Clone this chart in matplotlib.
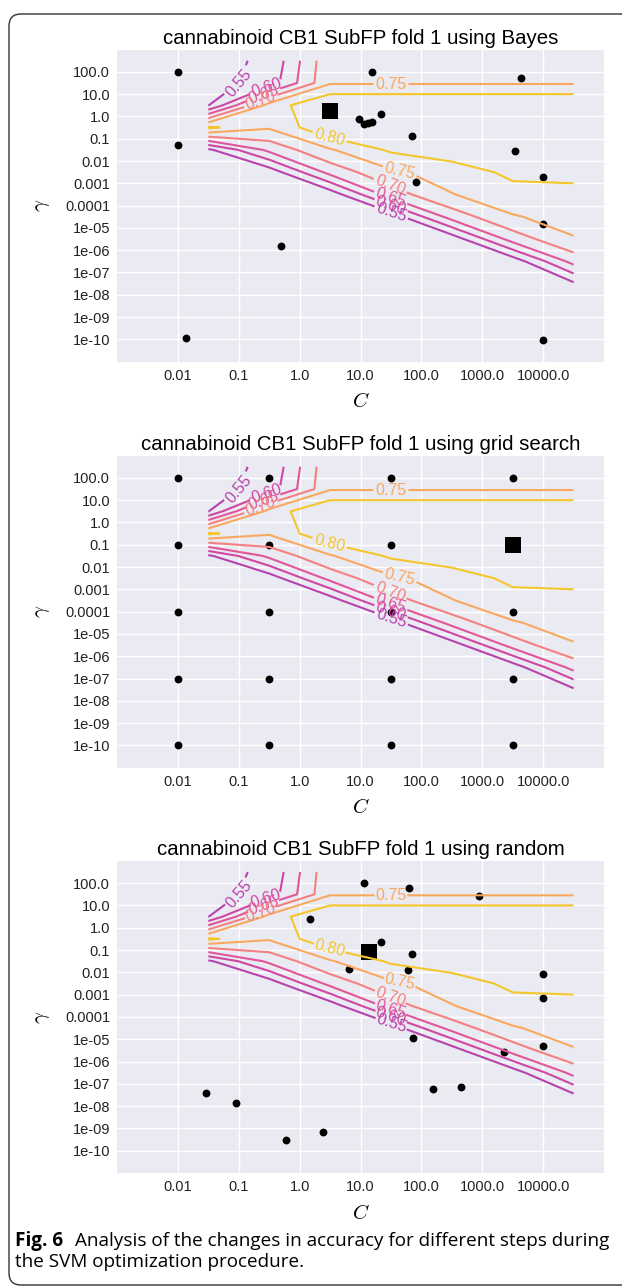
import numpy as np
import matplotlib
matplotlib.use('Agg')
import matplotlib.pyplot as plt
from matplotlib.patches import FancyBboxPatch

plt.rcParams['font.family'] = ['Liberation Sans', 'DejaVu Sans']
plt.rcParams['mathtext.fontset'] = 'cm'

# accuracy surface (log10 C columns, log10 gamma rows, top row first)
grid_logC = [-1.5, -0.5, 0.5, 1.5, 2.5, 3.5, 4.5]
grid_logg = [2.5, 1.5, 0.5, -0.5, -1.5, -2.5, -3.5, -4.5, -5.5, -6.5, -7.5, -8.5]
accuracy = [
    [0.539, 0.556, 0.741, 0.742, 0.742, 0.742, 0.742],
    [0.530, 0.570, 0.745, 0.745, 0.745, 0.745, 0.745],
    [0.548, 0.770, 0.855, 0.855, 0.855, 0.855, 0.855],
    [0.810, 0.755, 0.845, 0.850, 0.860, 0.860, 0.860],
    [0.540, 0.663, 0.745, 0.808, 0.830, 0.840, 0.850],
    [0.500, 0.520, 0.667, 0.741, 0.773, 0.812, 0.815],
    [0.500, 0.500, 0.520, 0.675, 0.748, 0.782, 0.785],
    [0.500, 0.500, 0.500, 0.520, 0.671, 0.746, 0.770],
    [0.500, 0.500, 0.500, 0.500, 0.520, 0.672, 0.7465],
    [0.500, 0.500, 0.500, 0.500, 0.500, 0.520, 0.669],
    [0.500, 0.500, 0.500, 0.500, 0.500, 0.500, 0.542],
    [0.500, 0.500, 0.500, 0.500, 0.500, 0.500, 0.500],
]
levels = [0.55, 0.60, 0.65, 0.70, 0.75, 0.80]
level_colors = ['#b743ad', '#cf47a3', '#e2559a', '#f4817f', '#f8a95f', '#f5c62c']
label_pos = [(-1.0, 1.5), (-0.55, 1.3), (-0.6, 1.05), (-0.65, 0.8),
             (1.5, 1.45), (0.5, -0.85), (1.65, -2.35), (1.5, -3.0),
             (1.5, -3.6), (1.5, -4.0), (1.5, -4.35)]

# sampled points, log10 values
bayes_logC = [-2.0, -2.0, -1.87, -0.30, 1.19, 3.63, 1.33, 0.98, 1.05, 1.12, 1.19,
              1.84, 3.53, 4.0, 1.91, 4.0, 4.0]
bayes_logg = [2.0, -1.28, -9.96, -5.82, 1.98, 1.72, 0.13, -0.12, -0.36, -0.30, -0.25,
              -0.90, -1.53, -2.71, -2.92, -4.82, -10.03]
bayes_best = (0.50, 0.24)

grid_C_steps = [-2.0, -0.5, 1.5, 3.5]
grid_g_steps = [2.0, -1.0, -4.0, -7.0, -10.0]
grid_best = (3.5, -1.0)

rand_logC = [1.06, 1.79, 2.94, 0.17, 1.33, 1.85, 0.81, 1.78, 3.99, 3.99, 1.86, 3.99,
             3.35, 2.19, 2.65, -1.54, -1.05, 0.39, -0.22]
rand_logg = [2.0, 1.80, 1.41, 0.38, -0.62, -1.17, -1.85, -1.91, -2.08, -3.17, -4.96,
             -5.29, -5.59, -7.25, -7.14, -7.41, -7.88, -9.17, -9.50]
rand_best = (1.14, -1.10)

x_ticks = [-2, -1, 0, 1, 2, 3, 4]
x_labels = ['0.01', '0.1', '1.0', '10.0', '100.0', '1000.0', '10000.0']
y_ticks = [2, 1, 0, -1, -2, -3, -4, -5, -6, -7, -8, -9, -10]
y_labels = ['100.0', '10.0', '1.0', '0.1', '0.01', '0.001', '0.0001', '1e-05',
            '1e-06', '1e-07', '1e-08', '1e-09', '1e-10']

gC, gG = np.meshgrid(grid_C_steps, grid_g_steps)

panels = [
    ('cannabinoid CB1 SubFP fold 1 using Bayes', bayes_logC, bayes_logg, bayes_best, 0.7190),
    ('cannabinoid CB1 SubFP fold 1 using grid search', gC.ravel(), gG.ravel(), grid_best, 0.4035),
    ('cannabinoid CB1 SubFP fold 1 using random', rand_logC, rand_logg, rand_best, 0.0886),
]

fig = plt.figure(figsize=(6.22, 12.87), dpi=100)

Z = np.array(accuracy)[::-1]
Y = np.array(grid_logg)[::-1]

for title, xs, ys, best, bottom in panels:
    ax = fig.add_axes([0.1881, bottom, 0.783, 0.2425])
    ax.set_facecolor('#EAEAF2')
    ax.grid(True, color='white', linewidth=1.0)
    ax.set_axisbelow(True)
    for sp in ax.spines.values():
        sp.set_visible(False)

    ax.scatter(xs, ys, s=32, c='black', linewidths=0, zorder=3)
    ax.scatter([best[0]], [best[1]], s=125, c='black', marker='s', linewidths=0, zorder=3)

    cs = ax.contour(grid_logC, Y, Z, levels=levels, colors=level_colors,
                    linewidths=1.5, zorder=4)
    ax.clabel(cs, fmt='%.2f', fontsize=11.5, inline=True, manual=label_pos)

    ax.set_xlim(-3, 5)
    ax.set_ylim(-11, 3)
    ax.set_xticks(x_ticks)
    ax.set_xticklabels(x_labels, fontsize=10.5)
    ax.set_yticks(y_ticks)
    ax.set_yticklabels(y_labels, fontsize=10.5)
    ax.tick_params(length=0, pad=5, colors='#222222')
    ax.set_xlabel('$C$', fontsize=15, labelpad=7)
    ax.set_ylabel(r'$\gamma$', fontsize=15, labelpad=9)
    ax.set_title(title, fontsize=14.7, pad=4)

# frame and caption
frame = FancyBboxPatch((0.09, 0.02), 7.0, 12.71, boxstyle='round,pad=0,rounding_size=0.12',
                       transform=fig.dpi_scale_trans, fill=False, edgecolor='#333333',
                       linewidth=1.0, clip_on=False)
fig.patches.append(frame)

cap_font = ['Open Sans', 'DejaVu Sans']
fig.text(15 / 622, 1 - 1241 / 1287, 'Fig. 6', fontsize=13.6, fontweight='bold',
         family=cap_font, va='center')
fig.text(75 / 622, 1 - 1241 / 1287,
         'Analysis of the changes in accuracy for different steps during',
         fontsize=13.6, family=cap_font, va='center')
fig.text(15 / 622, 1 - 1262 / 1287, 'the SVM optimization procedure.',
         fontsize=13.6, family=cap_font, va='center')

fig.savefig('out.png', dpi=100)
